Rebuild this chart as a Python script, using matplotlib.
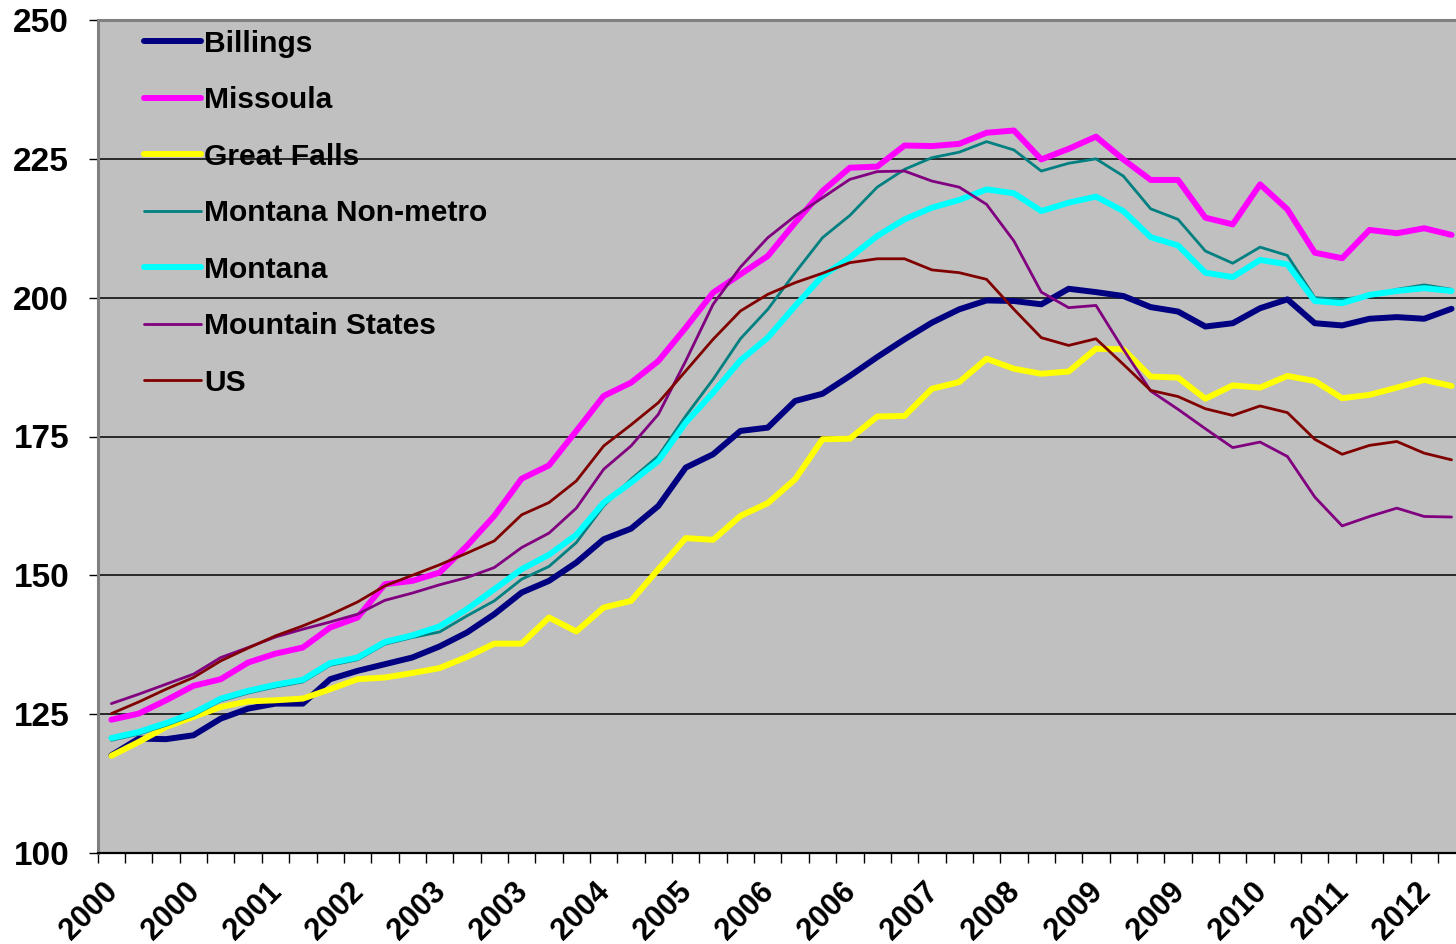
import numpy as np
import matplotlib
matplotlib.use("Agg")
import matplotlib.pyplot as plt
import matplotlib.transforms as mtransforms

plt.rcParams['font.family'] = ['Liberation Sans', 'DejaVu Sans']
plt.rcParams['font.weight'] = 'bold'

# quarterly index values, 2000 Q1 .. 2012 Q2
billings = [117.6, 120.6, 120.5, 121.2, 124.2, 126.0, 126.9, 126.9, 131.3, 132.8,
            134.0, 135.2, 137.2, 139.7, 143.0, 146.9, 149.0, 152.3, 156.5, 158.4,
            162.5, 169.4, 171.8, 176.0, 176.6, 181.4, 182.7, 185.9, 189.3, 192.5,
            195.5, 197.9, 199.5, 199.4, 198.8, 201.6, 201.0, 200.3, 198.3, 197.5,
            194.8, 195.4, 198.1, 199.7, 195.4, 195.0, 196.2, 196.5, 196.2, 198.0]
missoula = [124.0, 125.1, 127.5, 130.1, 131.3, 134.3, 135.9, 137.0, 140.6, 142.4,
            148.4, 149.0, 150.5, 155.3, 160.7, 167.4, 169.8, 176.0, 182.3, 184.7,
            188.6, 194.6, 200.9, 204.2, 207.5, 213.5, 219.2, 223.4, 223.6, 227.4,
            227.3, 227.7, 229.7, 230.1, 224.9, 226.8, 229.0, 224.9, 221.2, 221.2,
            214.4, 213.2, 220.4, 215.9, 208.1, 207.1, 212.2, 211.6, 212.5, 211.3]
great_falls = [117.5, 120.0, 122.7, 124.5, 126.3, 127.3, 127.5, 127.8, 129.5, 131.3,
               131.6, 132.4, 133.3, 135.3, 137.7, 137.7, 142.4, 139.9, 144.2, 145.4,
               151.1, 156.7, 156.4, 160.7, 163.0, 167.3, 174.5, 174.6, 178.6, 178.7,
               183.6, 184.8, 189.0, 187.2, 186.3, 186.7, 190.8, 190.7, 185.8, 185.6,
               181.8, 184.2, 183.8, 185.9, 185.0, 181.9, 182.5, 183.8, 185.2, 184.1]
mt_nonmetro = [120.3, 121.4, 123.0, 124.8, 127.4, 128.8, 129.9, 130.8, 133.8, 134.8,
               137.6, 138.8, 139.8, 142.7, 145.4, 149.3, 151.6, 155.9, 162.5, 167.3,
               171.5, 178.7, 185.3, 192.6, 197.9, 204.5, 210.8, 214.8, 219.9, 223.1,
               225.2, 226.2, 228.1, 226.6, 222.8, 224.2, 225.0, 221.9, 216.0, 214.1,
               208.4, 206.2, 209.1, 207.6, 200.0, 199.7, 200.3, 201.5, 202.3, 201.5]
montana = [120.7, 121.8, 123.4, 125.2, 127.8, 129.2, 130.3, 131.2, 134.2, 135.2,
           138.0, 139.2, 140.8, 143.9, 147.5, 151.1, 153.7, 157.3, 163.1, 166.7,
           170.6, 177.5, 182.9, 188.7, 192.8, 198.5, 203.9, 207.2, 211.1, 214.1,
           216.2, 217.6, 219.5, 218.8, 215.6, 217.1, 218.2, 215.6, 210.9, 209.4,
           204.5, 203.7, 206.8, 206.0, 199.4, 199.0, 200.5, 201.2, 201.7, 201.2]
mountain = [126.9, 128.6, 130.4, 132.2, 135.2, 137.0, 138.9, 140.3, 141.6, 143.0,
            145.5, 146.8, 148.3, 149.6, 151.4, 155.0, 157.6, 162.1, 169.1, 173.3,
            179.0, 188.6, 198.8, 205.5, 210.8, 214.7, 218.0, 221.3, 222.7, 222.8,
            221.0, 219.9, 216.8, 210.2, 201.0, 198.2, 198.6, 190.7, 183.2, 179.9,
            176.4, 173.0, 174.0, 171.4, 164.1, 158.9, 160.6, 162.1, 160.6, 160.5]
us = [125.1, 127.2, 129.5, 131.6, 134.6, 136.9, 139.1, 140.9, 142.9, 145.2,
      148.1, 150.0, 151.9, 154.0, 156.2, 160.9, 163.1, 167.0, 173.3, 177.1,
      181.1, 186.8, 192.5, 197.6, 200.6, 202.7, 204.4, 206.3, 207.0, 207.0,
      205.0, 204.5, 203.3, 197.9, 192.8, 191.4, 192.6, 188.0, 183.3, 182.2,
      180.0, 178.8, 180.5, 179.3, 174.5, 171.8, 173.4, 174.1, 172.0, 170.8]

# every third quarter gets a year label
tick_labels = ["2000", "2000", "2001", "2002", "2003", "2003", "2004", "2005", "2006",
               "2006", "2007", "2008", "2009", "2009", "2010", "2011", "2012"]

series = [
    ("Billings", billings, "#000080", 4.3),
    ("Missoula", missoula, "#FF00FF", 4.3),
    ("Great Falls", great_falls, "#FFFF00", 4.3),
    ("Montana Non-metro", mt_nonmetro, "#008080", 2.0),
    ("Montana", montana, "#00FFFF", 4.3),
    ("Mountain States", mountain, "#800080", 2.0),
    ("US", us, "#800000", 2.0),
]

n = len(billings)
x = np.arange(n)

fig = plt.figure(figsize=(14.56, 9.44), dpi=100)
# the axes run a little past the right edge of the picture, as in the original
ax = fig.add_axes([97.7 / 1456, 91 / 944, 1367.5 / 1456, 833 / 944])
ax.set_facecolor("#C0C0C0")

for name, vals, color, lw in series:
    ax.plot(x, vals, color=color, lw=lw, label=name, solid_capstyle='round',
            solid_joinstyle='round')

ax.set_xlim(-0.5, n - 0.5)
ax.set_ylim(100, 250)
ax.set_yticks(np.arange(100, 251, 25))
ax.set_axisbelow(True)
ax.yaxis.grid(True, color="black", lw=1.1)

ax.tick_params(axis='y', direction='out', length=6.5, width=1, pad=14, labelsize=24)
ax.set_xticks(np.arange(-0.5, n, 1))
ax.set_xticklabels([])
ax.tick_params(axis='x', which='major', direction='out', length=7, width=1)
ax.set_xticks(np.arange(0, n, 3), labels=tick_labels, minor=True)
ax.tick_params(axis='x', which='minor', length=0, pad=25, labelsize=22)
offset = mtransforms.ScaledTranslation(0.02, 0, fig.dpi_scale_trans)
for lab in ax.get_xticklabels(minor=True):
    lab.set_rotation(45)
    lab.set_ha('right')
    lab.set_va('center')
    lab.set_rotation_mode('anchor')
    lab.set_transform(lab.get_transform() + offset)

for side in ['left', 'top']:
    ax.spines[side].set_color("#808080")
    ax.spines[side].set_linewidth(2.2)
ax.spines['bottom'].set_color("black")
ax.spines['bottom'].set_linewidth(1.6)
ax.spines['right'].set_visible(False)

ax.legend(loc='upper left', bbox_to_anchor=(0.0336, 0.9880), frameon=False,
          fontsize=21.6, borderpad=0, borderaxespad=0, handlelength=1.9,
          handletextpad=0.12, labelspacing=0.95)

fig.savefig("out.png", dpi=100)
